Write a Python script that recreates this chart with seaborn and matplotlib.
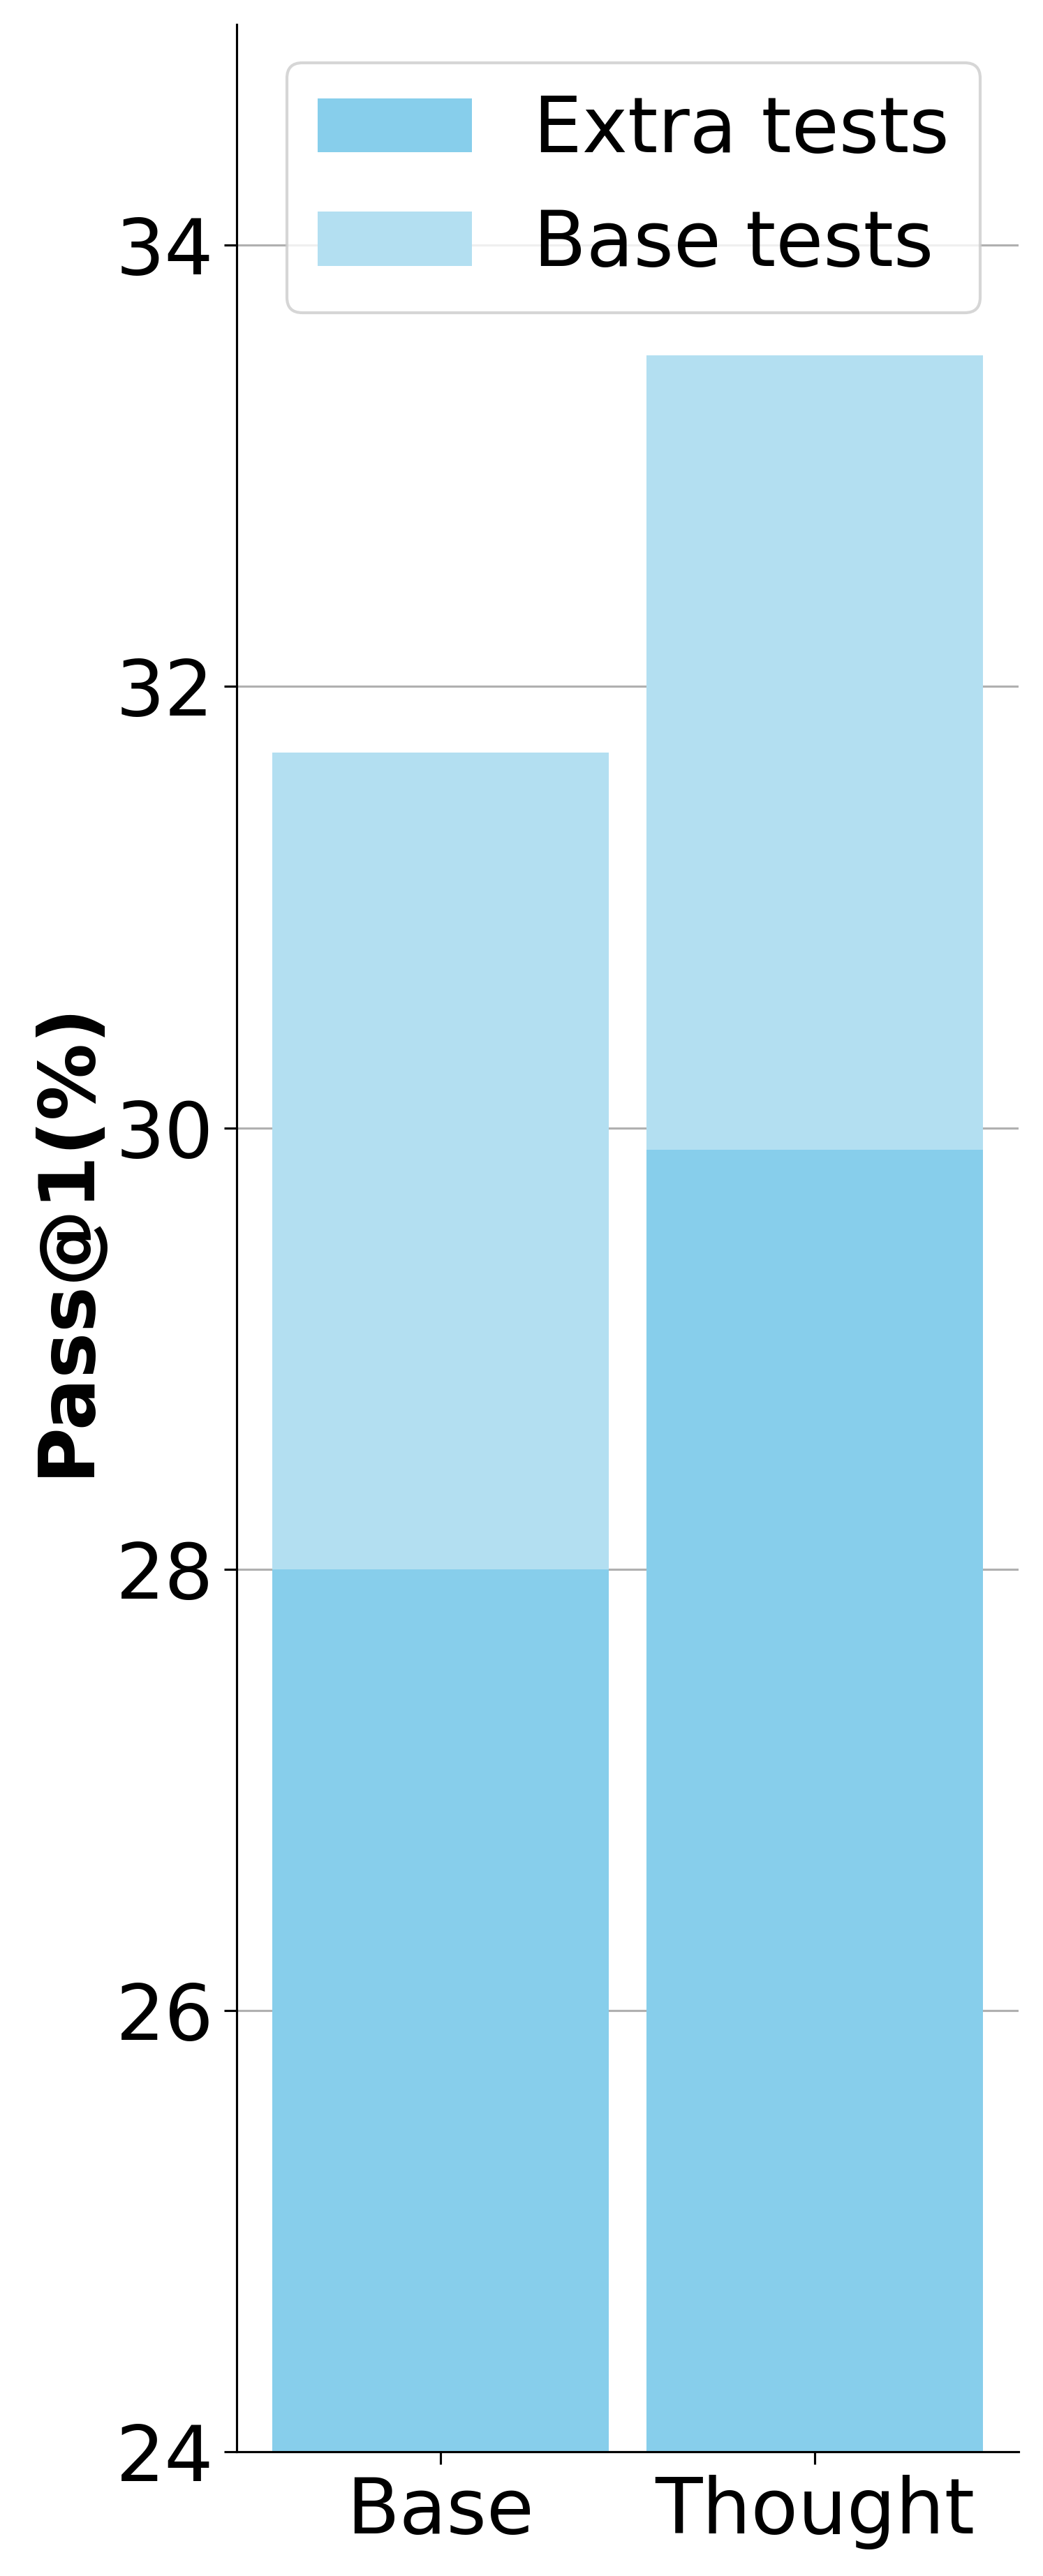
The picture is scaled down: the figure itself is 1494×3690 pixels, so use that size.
import matplotlib
matplotlib.use("Agg")
import matplotlib.pyplot as plt
import seaborn as sns

# données
modeles = ["Base", "Thought"]
base_tests = [31.7, 33.5]    # hauteur totale (base tests)
extra_tests = [28.0, 29.9]   # partie extra tests
y_ticks = [24, 26, 28, 30, 32, 34]

couleur_extra = "#87CEEB"
couleur_base = "#B3DFF1"
fs = 26.5

fig, ax = plt.subplots(figsize=(4.98, 12.3), dpi=300)
fig.subplots_adjust(left=0.2269, right=0.9766, top=0.9905, bottom=0.0482)

sns.barplot(x=modeles, y=base_tests, color=couleur_base, saturation=1,
            width=0.9, label="Base tests", ax=ax)
sns.barplot(x=modeles, y=extra_tests, color=couleur_extra, saturation=1,
            width=0.9, label="Extra tests", ax=ax)

ax.set_ylim(24, 35)
ax.set_xlim(-0.545, 1.545)
ax.set_yticks(y_ticks)
ax.set_axisbelow(True)
ax.yaxis.grid(True, color="#b0b0b0", linewidth=0.75)
ax.xaxis.grid(False)

for s in ["top", "right"]:
    ax.spines[s].set_visible(False)
for s in ["left", "bottom"]:
    ax.spines[s].set_linewidth(0.75)

ax.tick_params(axis="both", labelsize=fs, length=4.3, width=0.75)
ax.set_ylabel("Pass@1(%)", fontsize=fs, fontweight="bold")
ax.set_xlabel("")

h, l = ax.get_legend_handles_labels()
ax.legend(h[::-1], l[::-1], loc="upper right", fontsize=fs)

plt.savefig("out.png", dpi=300)
